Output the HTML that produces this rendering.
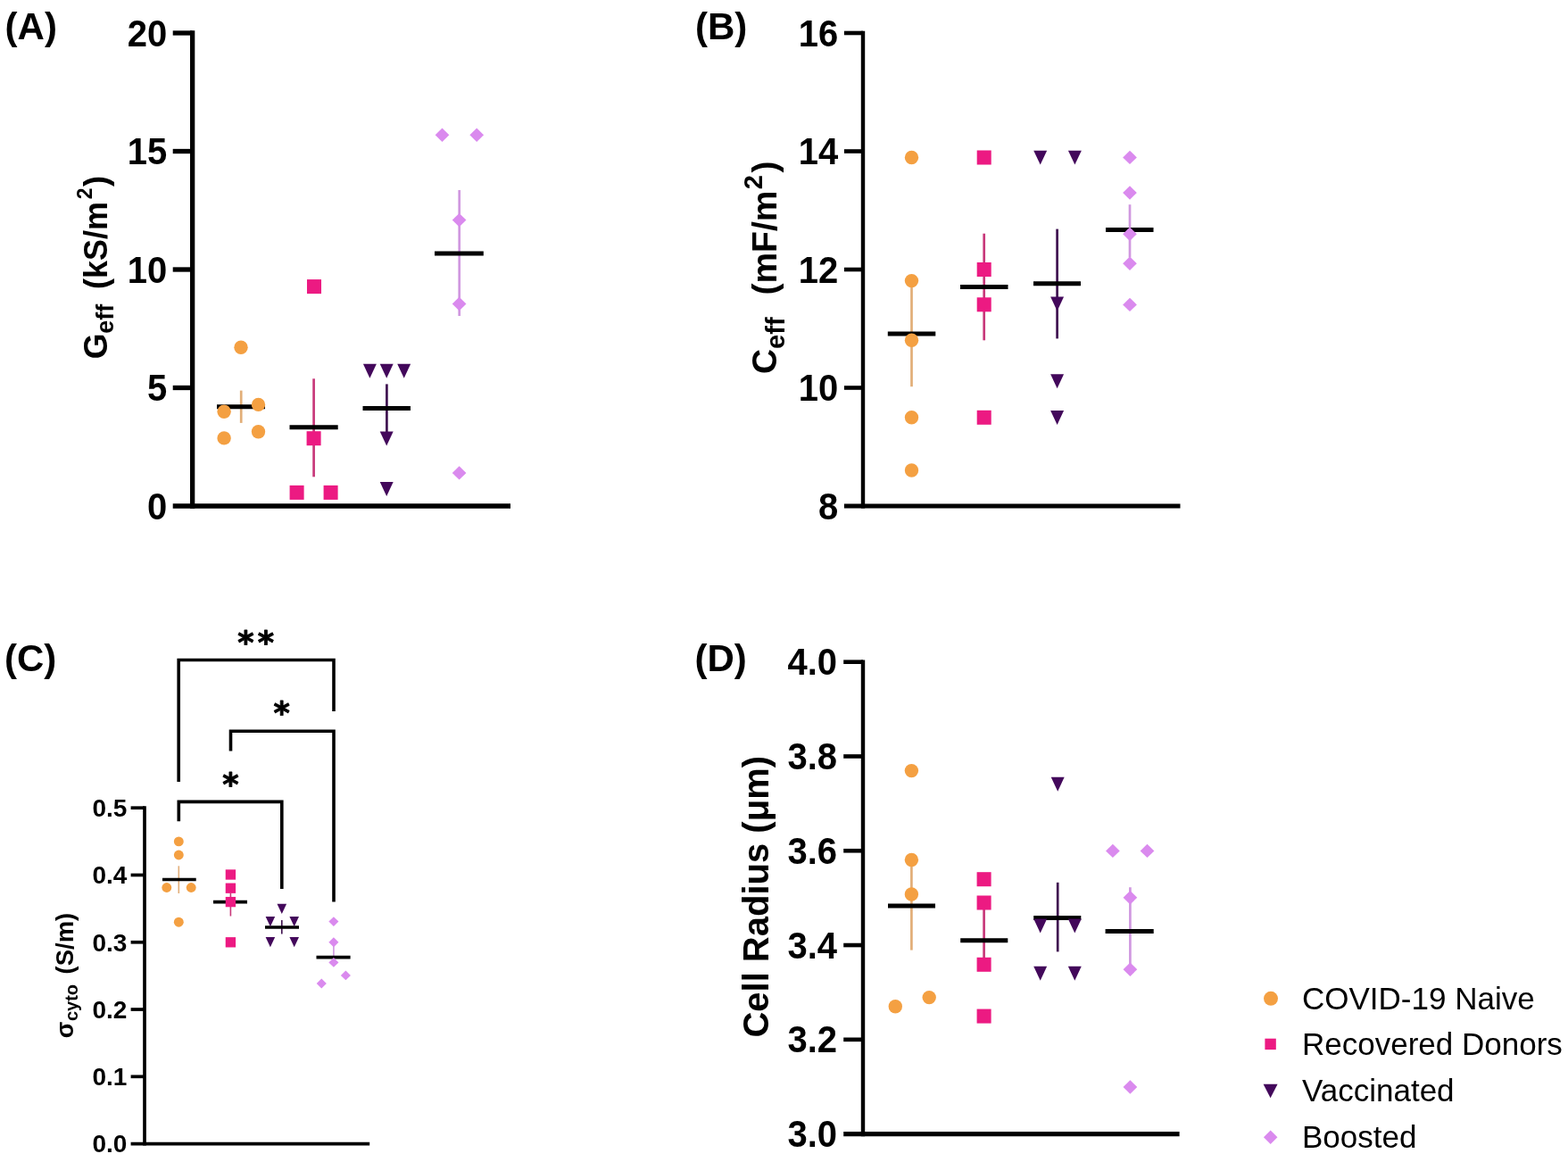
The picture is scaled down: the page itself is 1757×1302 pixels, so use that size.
<!DOCTYPE html>
<html><head><meta charset="utf-8"><title>Figure</title><style>html,body{margin:0;padding:0;background:#fff;overflow:hidden;}svg{display:block;}</style></head><body>
<svg width="1757" height="1302" viewBox="0 0 1757 1302" font-family="'Liberation Sans', Arial, sans-serif" style="white-space:pre">
<rect width="1757" height="1302" fill="#fff"/>
<text x="5.6" y="44.2" font-size="42" font-weight="bold" text-anchor="start" >(A)</text>
<line x1="215.65" y1="34.35" x2="215.65" y2="569.65" stroke="#000" stroke-width="5.3" stroke-linecap="butt"/>
<line x1="193.7" y1="567.0" x2="572" y2="567.0" stroke="#000" stroke-width="5.3" stroke-linecap="butt"/>
<text transform="translate(187.30,581.50) scale(1.0,1.04)" font-size="40" font-weight="bold" text-anchor="end">0</text>
<line x1="193.7" y1="434.5" x2="215.65" y2="434.5" stroke="#000" stroke-width="5.3" stroke-linecap="butt"/>
<text transform="translate(187.30,449.00) scale(1.0,1.04)" font-size="40" font-weight="bold" text-anchor="end">5</text>
<line x1="193.7" y1="302.0" x2="215.65" y2="302.0" stroke="#000" stroke-width="5.3" stroke-linecap="butt"/>
<text transform="translate(187.30,316.50) scale(1.0,1.04)" font-size="40" font-weight="bold" text-anchor="end">10</text>
<line x1="193.7" y1="169.5" x2="215.65" y2="169.5" stroke="#000" stroke-width="5.3" stroke-linecap="butt"/>
<text transform="translate(187.30,184.00) scale(1.0,1.04)" font-size="40" font-weight="bold" text-anchor="end">15</text>
<line x1="193.7" y1="37.0" x2="215.65" y2="37.0" stroke="#000" stroke-width="5.3" stroke-linecap="butt"/>
<text transform="translate(187.30,51.50) scale(1.0,1.04)" font-size="40" font-weight="bold" text-anchor="end">20</text>
<line x1="270.2" y1="437.6" x2="270.2" y2="473.9" stroke="#E2AE78" stroke-width="2.7" stroke-linecap="butt"/>
<line x1="243" y1="455.7" x2="297" y2="455.7" stroke="#000" stroke-width="5.0" stroke-linecap="butt"/>
<circle cx="270" cy="389.2" r="7.7" fill="#F4A042"/>
<circle cx="251.1" cy="461.2" r="7.7" fill="#F4A042"/>
<circle cx="289.5" cy="453.4" r="7.7" fill="#F4A042"/>
<circle cx="251.1" cy="490.9" r="7.7" fill="#F4A042"/>
<circle cx="289.5" cy="483.8" r="7.7" fill="#F4A042"/>
<line x1="351.6" y1="424.3" x2="351.6" y2="534.3" stroke="#C8387A" stroke-width="2.7" stroke-linecap="butt"/>
<line x1="324.5" y1="478.8" x2="378.7" y2="478.8" stroke="#000" stroke-width="5.0" stroke-linecap="butt"/>
<rect x="343.99" y="313.09" width="16.016000000000002" height="16.016000000000002" fill="#EC1A82"/>
<rect x="343.59" y="483.19" width="16.016000000000002" height="16.016000000000002" fill="#EC1A82"/>
<rect x="324.59" y="543.89" width="16.016000000000002" height="16.016000000000002" fill="#EC1A82"/>
<rect x="362.59" y="543.89" width="16.016000000000002" height="16.016000000000002" fill="#EC1A82"/>
<line x1="433.4" y1="430.4" x2="433.4" y2="487" stroke="#3F1150" stroke-width="2.7" stroke-linecap="butt"/>
<line x1="406.5" y1="457.5" x2="460" y2="457.5" stroke="#000" stroke-width="5.0" stroke-linecap="butt"/>
<polygon points="406.93,407.87 421.87,407.87 414.40,423.73" fill="#43085B"/>
<polygon points="425.73,407.87 440.67,407.87 433.20,423.73" fill="#43085B"/>
<polygon points="445.23,407.87 460.17,407.87 452.70,423.73" fill="#43085B"/>
<polygon points="425.73,483.57 440.67,483.57 433.20,499.43" fill="#43085B"/>
<polygon points="425.73,540.07 440.67,540.07 433.20,555.93" fill="#43085B"/>
<line x1="514.7" y1="213" x2="514.7" y2="354" stroke="#D098E0" stroke-width="2.7" stroke-linecap="butt"/>
<line x1="487" y1="284" x2="541.8" y2="284" stroke="#000" stroke-width="5.0" stroke-linecap="butt"/>
<polygon points="495.50,143.50 503.35,151.20 495.50,158.90 487.65,151.20" fill="#DA8AEE"/>
<polygon points="534.20,143.50 542.05,151.20 534.20,158.90 526.35,151.20" fill="#DA8AEE"/>
<polygon points="514.60,238.90 522.45,246.60 514.60,254.30 506.75,246.60" fill="#DA8AEE"/>
<polygon points="514.60,332.80 522.45,340.50 514.60,348.20 506.75,340.50" fill="#DA8AEE"/>
<polygon points="514.60,522.20 522.45,529.90 514.60,537.60 506.75,529.90" fill="#DA8AEE"/>
<text x="779" y="44.2" font-size="42" font-weight="bold" text-anchor="start" >(B)</text>
<line x1="967.0" y1="34.7" x2="967.0" y2="569.6" stroke="#000" stroke-width="4.4" stroke-linecap="butt"/>
<line x1="945.9" y1="567.0" x2="1322.5" y2="567.0" stroke="#000" stroke-width="5.2" stroke-linecap="butt"/>
<text transform="translate(939.20,581.50) scale(1.0,1.04)" font-size="40" font-weight="bold" text-anchor="end">8</text>
<line x1="945.9" y1="434.5" x2="967.0" y2="434.5" stroke="#000" stroke-width="4.6" stroke-linecap="butt"/>
<text transform="translate(939.20,449.00) scale(1.0,1.04)" font-size="40" font-weight="bold" text-anchor="end">10</text>
<line x1="945.9" y1="302.0" x2="967.0" y2="302.0" stroke="#000" stroke-width="4.6" stroke-linecap="butt"/>
<text transform="translate(939.20,316.50) scale(1.0,1.04)" font-size="40" font-weight="bold" text-anchor="end">12</text>
<line x1="945.9" y1="169.5" x2="967.0" y2="169.5" stroke="#000" stroke-width="4.6" stroke-linecap="butt"/>
<text transform="translate(939.20,184.00) scale(1.0,1.04)" font-size="40" font-weight="bold" text-anchor="end">14</text>
<line x1="945.9" y1="37.0" x2="967.0" y2="37.0" stroke="#000" stroke-width="4.6" stroke-linecap="butt"/>
<text transform="translate(939.20,51.50) scale(1.0,1.04)" font-size="40" font-weight="bold" text-anchor="end">16</text>
<line x1="1021.5" y1="314.6" x2="1021.5" y2="433.2" stroke="#E2AE78" stroke-width="2.7" stroke-linecap="butt"/>
<line x1="994.8" y1="374" x2="1048.3" y2="374" stroke="#000" stroke-width="5.0" stroke-linecap="butt"/>
<circle cx="1021.5" cy="176.5" r="7.7" fill="#F4A042"/>
<circle cx="1021.5" cy="314.6" r="7.7" fill="#F4A042"/>
<circle cx="1021.5" cy="381.3" r="7.7" fill="#F4A042"/>
<circle cx="1021.5" cy="467.8" r="7.7" fill="#F4A042"/>
<circle cx="1021.5" cy="527" r="7.7" fill="#F4A042"/>
<line x1="1102.7" y1="261.7" x2="1102.7" y2="381.3" stroke="#C8387A" stroke-width="2.7" stroke-linecap="butt"/>
<line x1="1076" y1="321.5" x2="1129.5" y2="321.5" stroke="#000" stroke-width="5.0" stroke-linecap="butt"/>
<rect x="1094.69" y="168.49" width="16.016000000000002" height="16.016000000000002" fill="#EC1A82"/>
<rect x="1094.69" y="293.99" width="16.016000000000002" height="16.016000000000002" fill="#EC1A82"/>
<rect x="1094.69" y="333.29" width="16.016000000000002" height="16.016000000000002" fill="#EC1A82"/>
<rect x="1094.69" y="459.79" width="16.016000000000002" height="16.016000000000002" fill="#EC1A82"/>
<line x1="1184.6" y1="256.6" x2="1184.6" y2="379.4" stroke="#3F1150" stroke-width="2.7" stroke-linecap="butt"/>
<line x1="1158" y1="317.7" x2="1211" y2="317.7" stroke="#000" stroke-width="5.0" stroke-linecap="butt"/>
<polygon points="1158.23,168.67 1173.17,168.67 1165.70,184.53" fill="#43085B"/>
<polygon points="1196.93,168.67 1211.87,168.67 1204.40,184.53" fill="#43085B"/>
<polygon points="1177.13,332.57 1192.07,332.57 1184.60,348.43" fill="#43085B"/>
<polygon points="1177.13,419.27 1192.07,419.27 1184.60,435.13" fill="#43085B"/>
<polygon points="1177.13,460.07 1192.07,460.07 1184.60,475.93" fill="#43085B"/>
<line x1="1266" y1="229.2" x2="1266" y2="288.6" stroke="#D098E0" stroke-width="2.7" stroke-linecap="butt"/>
<line x1="1239" y1="257.6" x2="1292.5" y2="257.6" stroke="#000" stroke-width="5.0" stroke-linecap="butt"/>
<polygon points="1266.00,168.70 1273.85,176.40 1266.00,184.10 1258.15,176.40" fill="#DA8AEE"/>
<polygon points="1266.00,208.30 1273.85,216.00 1266.00,223.70 1258.15,216.00" fill="#DA8AEE"/>
<polygon points="1266.00,254.50 1273.85,262.20 1266.00,269.90 1258.15,262.20" fill="#DA8AEE"/>
<polygon points="1266.00,287.50 1273.85,295.20 1266.00,302.90 1258.15,295.20" fill="#DA8AEE"/>
<polygon points="1266.00,333.70 1273.85,341.40 1266.00,349.10 1258.15,341.40" fill="#DA8AEE"/>
<text x="5" y="751.8" font-size="42" font-weight="bold" text-anchor="start" >(C)</text>
<line x1="162" y1="903.3499999999999" x2="162" y2="1283.4499999999998" stroke="#000" stroke-width="3.7" stroke-linecap="butt"/>
<line x1="146.6" y1="1281.6" x2="414.2" y2="1281.6" stroke="#000" stroke-width="3.7" stroke-linecap="butt"/>
<text transform="translate(142.40,1291.40) scale(1.0,1.0)" font-size="28" font-weight="bold" text-anchor="end">0.0</text>
<line x1="146.6" y1="1206.32" x2="162" y2="1206.32" stroke="#000" stroke-width="3.7" stroke-linecap="butt"/>
<text transform="translate(142.40,1216.12) scale(1.0,1.0)" font-size="28" font-weight="bold" text-anchor="end">0.1</text>
<line x1="146.6" y1="1131.04" x2="162" y2="1131.04" stroke="#000" stroke-width="3.7" stroke-linecap="butt"/>
<text transform="translate(142.40,1140.84) scale(1.0,1.0)" font-size="28" font-weight="bold" text-anchor="end">0.2</text>
<line x1="146.6" y1="1055.76" x2="162" y2="1055.76" stroke="#000" stroke-width="3.7" stroke-linecap="butt"/>
<text transform="translate(142.40,1065.56) scale(1.0,1.0)" font-size="28" font-weight="bold" text-anchor="end">0.3</text>
<line x1="146.6" y1="980.4799999999999" x2="162" y2="980.4799999999999" stroke="#000" stroke-width="3.7" stroke-linecap="butt"/>
<text transform="translate(142.40,990.28) scale(1.0,1.0)" font-size="28" font-weight="bold" text-anchor="end">0.4</text>
<line x1="146.6" y1="905.1999999999999" x2="162" y2="905.1999999999999" stroke="#000" stroke-width="3.7" stroke-linecap="butt"/>
<text transform="translate(142.40,915.00) scale(1.0,1.0)" font-size="28" font-weight="bold" text-anchor="end">0.5</text>
<line x1="200.3" y1="970.3" x2="200.3" y2="1001" stroke="#E2AE78" stroke-width="1.6" stroke-linecap="butt"/>
<line x1="182" y1="985.5" x2="219.7" y2="985.5" stroke="#000" stroke-width="3.6" stroke-linecap="butt"/>
<circle cx="200.3" cy="942.9" r="5.45" fill="#F4A042"/>
<circle cx="200.3" cy="958" r="5.45" fill="#F4A042"/>
<circle cx="186.8" cy="994.5" r="5.45" fill="#F4A042"/>
<circle cx="214.2" cy="994.5" r="5.45" fill="#F4A042"/>
<circle cx="200.3" cy="1033.2" r="5.45" fill="#F4A042"/>
<line x1="258.4" y1="1000.5" x2="258.4" y2="1026.5" stroke="#C8387A" stroke-width="1.6" stroke-linecap="butt"/>
<line x1="239" y1="1010.6" x2="277" y2="1010.6" stroke="#000" stroke-width="3.6" stroke-linecap="butt"/>
<rect x="252.73" y="974.33" width="11.336" height="11.336" fill="#EC1A82"/>
<rect x="252.73" y="989.53" width="11.336" height="11.336" fill="#EC1A82"/>
<rect x="252.73" y="1004.93" width="11.336" height="11.336" fill="#EC1A82"/>
<rect x="252.73" y="1050.13" width="11.336" height="11.336" fill="#EC1A82"/>
<line x1="315.8" y1="1031" x2="315.8" y2="1046.5" stroke="#3F1150" stroke-width="1.6" stroke-linecap="butt"/>
<line x1="297" y1="1039" x2="335" y2="1039" stroke="#000" stroke-width="3.6" stroke-linecap="butt"/>
<polygon points="310.51,1012.79 321.09,1012.79 315.80,1024.01" fill="#43085B"/>
<polygon points="297.61,1026.99 308.19,1026.99 302.90,1038.21" fill="#43085B"/>
<polygon points="324.41,1026.99 334.99,1026.99 329.70,1038.21" fill="#43085B"/>
<polygon points="297.61,1050.09 308.19,1050.09 302.90,1061.31" fill="#43085B"/>
<polygon points="324.41,1050.09 334.99,1050.09 329.70,1061.31" fill="#43085B"/>
<line x1="373.9" y1="1059" x2="373.9" y2="1076.8" stroke="#D098E0" stroke-width="1.6" stroke-linecap="butt"/>
<line x1="354.5" y1="1072.6" x2="392.6" y2="1072.6" stroke="#000" stroke-width="3.6" stroke-linecap="butt"/>
<polygon points="373.90,1027.15 379.46,1032.60 373.90,1038.05 368.34,1032.60" fill="#DA8AEE"/>
<polygon points="373.90,1050.35 379.46,1055.80 373.90,1061.25 368.34,1055.80" fill="#DA8AEE"/>
<polygon points="373.90,1072.95 379.46,1078.40 373.90,1083.85 368.34,1078.40" fill="#DA8AEE"/>
<polygon points="387.40,1087.45 392.96,1092.90 387.40,1098.35 381.84,1092.90" fill="#DA8AEE"/>
<polygon points="360.30,1096.55 365.86,1102.00 360.30,1107.45 354.74,1102.00" fill="#DA8AEE"/>
<polyline points="200.2,876 200.2,739.5 374,739.5 374,797" fill="none" stroke="#000" stroke-width="3.6"/>
<polyline points="258.5,841.4 258.5,819.3 374,819.3 374,1010.6" fill="none" stroke="#000" stroke-width="3.6"/>
<polyline points="200.3,920.3 200.3,898.4 315.8,898.4 315.8,996.1" fill="none" stroke="#000" stroke-width="3.6"/>
<text x="266.35" y="732.2" font-family="'DejaVu Sans', sans-serif" font-weight="bold" font-size="35" stroke="#000" stroke-width="0.9" stroke-linejoin="round" letter-spacing="4.05">**</text>
<text x="306.55" y="810.95" font-family="'DejaVu Sans', sans-serif" font-weight="bold" font-size="35" stroke="#000" stroke-width="0.9" stroke-linejoin="round">*</text>
<text x="249.25" y="890.65" font-family="'DejaVu Sans', sans-serif" font-weight="bold" font-size="35" stroke="#000" stroke-width="0.9" stroke-linejoin="round">*</text>
<text x="778.5" y="751.7" font-size="42" font-weight="bold" text-anchor="start" >(D)</text>
<line x1="967" y1="739.4" x2="967" y2="1273.1999999999998" stroke="#000" stroke-width="4.4" stroke-linecap="butt"/>
<line x1="945.2" y1="1270.6" x2="1321.6" y2="1270.6" stroke="#000" stroke-width="5.2" stroke-linecap="butt"/>
<text transform="translate(938.00,1285.10) scale(1.0,1.04)" font-size="40" font-weight="bold" text-anchor="end">3.0</text>
<line x1="945.2" y1="1164.8199999999997" x2="967" y2="1164.8199999999997" stroke="#000" stroke-width="4.6" stroke-linecap="butt"/>
<text transform="translate(938.00,1179.32) scale(1.0,1.04)" font-size="40" font-weight="bold" text-anchor="end">3.2</text>
<line x1="945.2" y1="1059.04" x2="967" y2="1059.04" stroke="#000" stroke-width="4.6" stroke-linecap="butt"/>
<text transform="translate(938.00,1073.54) scale(1.0,1.04)" font-size="40" font-weight="bold" text-anchor="end">3.4</text>
<line x1="945.2" y1="953.2599999999999" x2="967" y2="953.2599999999999" stroke="#000" stroke-width="4.6" stroke-linecap="butt"/>
<text transform="translate(938.00,967.76) scale(1.0,1.04)" font-size="40" font-weight="bold" text-anchor="end">3.6</text>
<line x1="945.2" y1="847.48" x2="967" y2="847.48" stroke="#000" stroke-width="4.6" stroke-linecap="butt"/>
<text transform="translate(938.00,861.98) scale(1.0,1.04)" font-size="40" font-weight="bold" text-anchor="end">3.8</text>
<line x1="945.2" y1="741.6999999999999" x2="967" y2="741.6999999999999" stroke="#000" stroke-width="4.6" stroke-linecap="butt"/>
<text transform="translate(938.00,756.20) scale(1.0,1.04)" font-size="40" font-weight="bold" text-anchor="end">4.0</text>
<line x1="1021.4" y1="963.5" x2="1021.4" y2="1064.6" stroke="#E2AE78" stroke-width="2.7" stroke-linecap="butt"/>
<line x1="995" y1="1015" x2="1048" y2="1015" stroke="#000" stroke-width="5.0" stroke-linecap="butt"/>
<circle cx="1021.4" cy="863.6" r="7.7" fill="#F4A042"/>
<circle cx="1021.4" cy="963.5" r="7.7" fill="#F4A042"/>
<circle cx="1021.4" cy="1002" r="7.7" fill="#F4A042"/>
<circle cx="1003.3" cy="1127.7" r="7.7" fill="#F4A042"/>
<circle cx="1041.2" cy="1117.6" r="7.7" fill="#F4A042"/>
<line x1="1102.6" y1="1011.5" x2="1102.6" y2="1080.8" stroke="#C8387A" stroke-width="2.7" stroke-linecap="butt"/>
<line x1="1076.2" y1="1053.7" x2="1129.3" y2="1053.7" stroke="#000" stroke-width="5.0" stroke-linecap="butt"/>
<rect x="1094.59" y="977.19" width="16.016000000000002" height="16.016000000000002" fill="#EC1A82"/>
<rect x="1094.59" y="1003.49" width="16.016000000000002" height="16.016000000000002" fill="#EC1A82"/>
<rect x="1094.59" y="1072.79" width="16.016000000000002" height="16.016000000000002" fill="#EC1A82"/>
<rect x="1094.59" y="1130.59" width="16.016000000000002" height="16.016000000000002" fill="#EC1A82"/>
<line x1="1185.2" y1="988.8" x2="1185.2" y2="1066.4" stroke="#3F1150" stroke-width="2.7" stroke-linecap="butt"/>
<line x1="1158.2" y1="1028.5" x2="1211.3" y2="1028.5" stroke="#000" stroke-width="5.0" stroke-linecap="butt"/>
<polygon points="1177.73,870.77 1192.67,870.77 1185.20,886.63" fill="#43085B"/>
<polygon points="1158.23,1029.57 1173.17,1029.57 1165.70,1045.43" fill="#43085B"/>
<polygon points="1196.83,1029.57 1211.77,1029.57 1204.30,1045.43" fill="#43085B"/>
<polygon points="1158.23,1082.87 1173.17,1082.87 1165.70,1098.73" fill="#43085B"/>
<polygon points="1196.83,1082.87 1211.77,1082.87 1204.30,1098.73" fill="#43085B"/>
<line x1="1266.4" y1="994.2" x2="1266.4" y2="1086" stroke="#D098E0" stroke-width="2.7" stroke-linecap="butt"/>
<line x1="1238.6" y1="1043.6" x2="1292.7" y2="1043.6" stroke="#000" stroke-width="5.0" stroke-linecap="butt"/>
<polygon points="1246.90,945.70 1254.75,953.40 1246.90,961.10 1239.05,953.40" fill="#DA8AEE"/>
<polygon points="1285.50,945.70 1293.35,953.40 1285.50,961.10 1277.65,953.40" fill="#DA8AEE"/>
<polygon points="1266.40,998.00 1274.25,1005.70 1266.40,1013.40 1258.55,1005.70" fill="#DA8AEE"/>
<polygon points="1266.40,1078.50 1274.25,1086.20 1266.40,1093.90 1258.55,1086.20" fill="#DA8AEE"/>
<polygon points="1266.40,1210.30 1274.25,1218.00 1266.40,1225.70 1258.55,1218.00" fill="#DA8AEE"/>
<text transform="translate(120.2,402.3) rotate(-90)" font-weight="bold"><tspan x="0" y="0" font-size="37">G</tspan><tspan x="28.45" y="6.8" font-size="27">eff</tspan><tspan x="68.4" y="0" font-size="36"> (kS/m</tspan><tspan x="179" y="-17.4" font-size="23">2</tspan><tspan x="193.3" y="0" font-size="36">)</tspan></text>
<text transform="translate(870.4,418.9) rotate(-90)" font-weight="bold"><tspan x="0" y="0" font-size="39">C</tspan><tspan x="28" y="8.6" font-size="29">eff</tspan><tspan x="77.5" y="0" font-size="39"> (mF/m</tspan><tspan x="206.6" y="-16.7" font-size="29">2</tspan><tspan x="225.4" y="0" font-size="39">)</tspan></text>
<text transform="translate(82,1163.3) rotate(-90)" font-weight="bold"><tspan x="0" y="0" font-size="27">σ</tspan><tspan x="19.2" y="5.2" font-size="20">cyto</tspan><tspan x="64.2" y="0" font-size="27.5"> (S/m)</tspan></text>
<text transform="translate(860.6,1162.6) rotate(-90)" font-weight="bold"><tspan x="0" y="0" font-size="40">Cell Radius (μm)</tspan></text>
<circle cx="1424" cy="1118.8" r="8" fill="#F4A042"/>
<rect x="1417.40" y="1163.70" width="12.4" height="12.4" fill="#EC1A82"/>
<polygon points="1415.60,1214.85 1431.60,1214.85 1423.60,1230.35" fill="#43085B"/>
<polygon points="1423.70,1266.45 1431.45,1274.20 1423.70,1281.95 1415.95,1274.20" fill="#DA8AEE"/>
<text x="1459" y="1130.5" font-size="35" font-weight="normal" text-anchor="start" >COVID-19 Naive</text>
<text x="1459" y="1182.3" font-size="35" font-weight="normal" text-anchor="start" >Recovered Donors</text>
<text x="1459" y="1234.1" font-size="35" font-weight="normal" text-anchor="start" >Vaccinated</text>
<text x="1459" y="1285.9" font-size="35" font-weight="normal" text-anchor="start" >Boosted</text>
</svg>
</body></html>
